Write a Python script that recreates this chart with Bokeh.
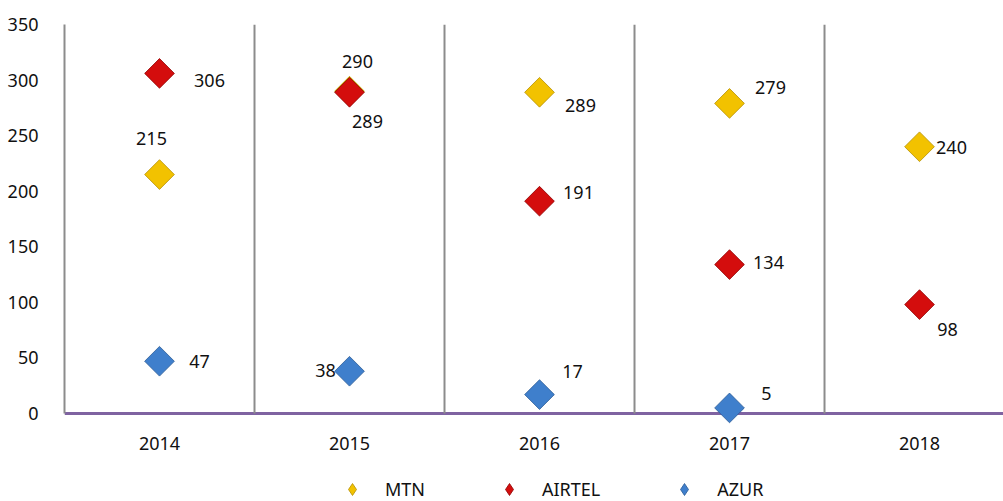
import math
from bokeh.plotting import figure
from bokeh.models import ColumnDataSource, Range1d, FixedTicker, Legend, LegendItem
from bokeh.core.properties import value
from bokeh.embed import file_html
from bokeh.resources import INLINE

years = ["2014", "2015", "2016", "2017", "2018"]
mtn = [215, 290, 289, 279, 240]
airtel = [306, 289, 191, 134, 98]
azur = [47, 38, 17, 5]
y_ticks = [0, 50, 100, 150, 200, 250, 300, 350]

# label offsets in screen px (style only)
mtn_dx = [-8, 8, 41, 41, 32]
mtn_dy = [-36, -30, 13, -16, 1]
air_dx = [50, 18, 39, 39, 28]
air_dy = [7, 29, -9, -2, 25]
az_dx = [40, -24, 33, 37]
az_dy = [0, -1, -23, -14]

FONT = "Noto Sans"

p = figure(width=1003, height=501, output_backend="svg", toolbar_location=None,
           x_range=Range1d(0.5, 5.442), y_range=Range1d(-79.2, 350),
           min_border_left=64, min_border_right=0, min_border_top=24,
           min_border_bottom=0, outline_line_color=None)
p.background_fill_color = "white"

xs = [i + 1 for i in range(len(years))]
seps = [x + 0.5 for x in xs[:-1]]

p.grid.grid_line_color = None
p.segment(x0=seps, y0=[0] * len(seps), x1=seps, y1=[350] * len(seps),
          line_color="#8c8c8c", line_width=2)

p.xaxis.fixed_location = 0
p.xaxis.level = "underlay"
p.xaxis.ticker = FixedTicker(ticks=xs)
p.xaxis.major_label_overrides = {x: y for x, y in zip(xs, years)}
p.xaxis.axis_line_color = "#7f63a1"
p.xaxis.axis_line_width = 3
p.xaxis.major_tick_line_color = None
p.xaxis.minor_tick_line_color = None
p.xaxis.major_label_standoff = 18
p.xaxis.major_label_text_font = FONT
p.xaxis.major_label_text_font_size = "18px"
p.xaxis.major_label_text_color = "#111111"

p.yaxis.ticker = FixedTicker(ticks=y_ticks)
p.yaxis.bounds = (0, 350)
p.yaxis.axis_line_color = "#8c8c8c"
p.yaxis.axis_line_width = 2
p.yaxis.major_tick_line_color = None
p.yaxis.minor_tick_line_color = None
p.yaxis.major_label_standoff = 20
p.yaxis.major_label_text_font = FONT
p.yaxis.major_label_text_font_size = "18px"
p.yaxis.major_label_text_color = "#111111"

series = [
    ("MTN", xs, mtn, "#f2c200", "#b58f00", mtn_dx, mtn_dy),
    ("AIRTEL", xs, airtel, "#d40d0d", "#8f0000", air_dx, air_dy),
    ("AZUR", xs[:len(azur)], azur, "#3f7fcc", "#2a5a96", az_dx, az_dy),
]

items = []
for name, sx, sv, fc, lc, dx, dy in series:
    src = ColumnDataSource(dict(x=sx, y=sv, t=[str(v) for v in sv], dx=dx, dy=dy))
    p.scatter("x", "y", source=src, marker="square", size=21, angle=math.pi / 4,
              fill_color=fc, line_color=lc, line_width=0.8)
    p.text("x", "y", text="t", source=src, x_offset="dx", y_offset="dy",
           text_align="center", text_baseline="middle",
           text_font=value(FONT), text_font_size="18px", text_color="#111111")
    # legend proxy (diamond key, not shown in the plot area)
    proxy = p.scatter(x=[float("nan")], y=[float("nan")], marker="diamond", size=14,
                      fill_color=fc, line_color=lc, line_width=0.8)
    items.append(LegendItem(label=name, renderers=[proxy]))

legend = Legend(items=items, orientation="horizontal", location=(273, -3),
                glyph_width=30, glyph_height=30, label_standoff=18, spacing=69,
                padding=0, margin=0, border_line_color=None,
                background_fill_alpha=0,
                label_text_font=FONT, label_text_font_size="18px",
                label_text_color="#111111")
p.add_layout(legend, "center")

open("out.html", "w").write(file_html(p, INLINE))
